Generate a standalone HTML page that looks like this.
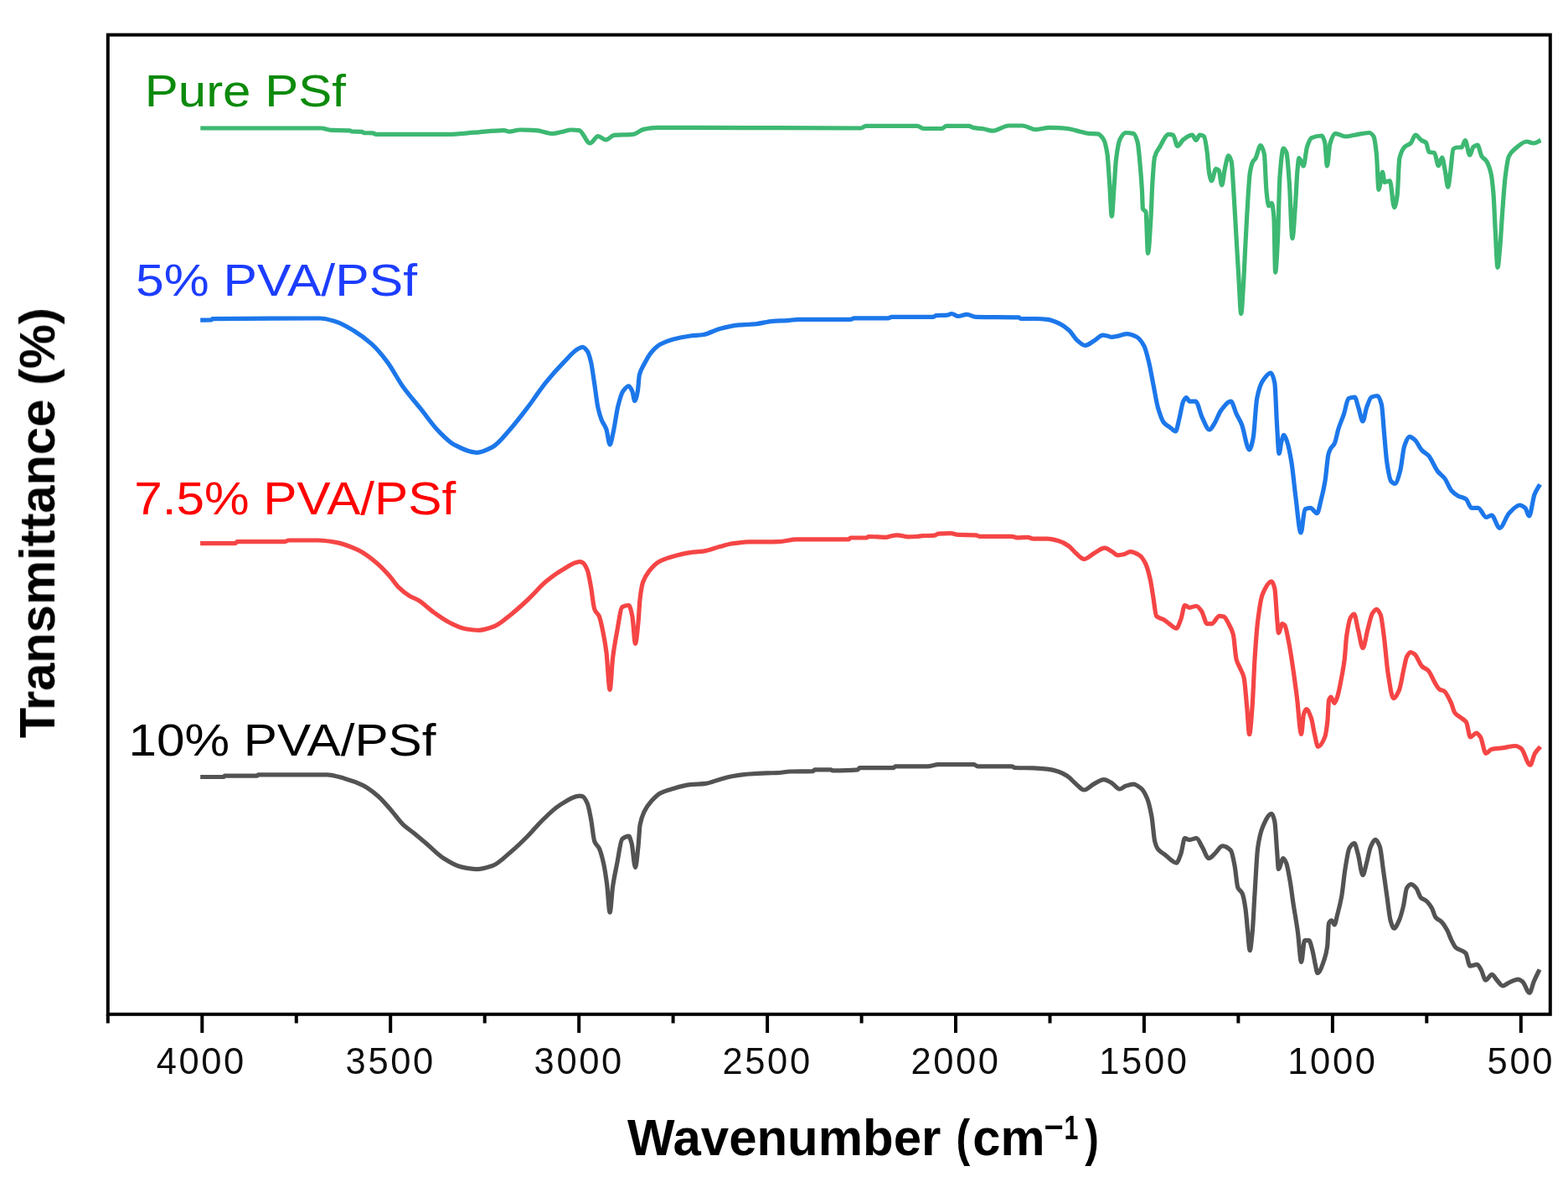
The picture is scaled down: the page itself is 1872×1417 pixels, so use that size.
<!DOCTYPE html>
<html><head><meta charset="utf-8"><title>FTIR spectra</title>
<style>
html,body{margin:0;padding:0;background:#fff;}
body{width:1872px;height:1417px;overflow:hidden;}
svg{display:block;}
text{font-family:"Liberation Sans",Arial,Helvetica,sans-serif;}
</style></head><body>
<svg width="1872" height="1417" viewBox="0 0 1872 1417">
<defs><filter id="soft" x="-1%" y="-1%" width="102%" height="102%"><feGaussianBlur stdDeviation="0.45"/></filter></defs>
<rect width="1872" height="1417" fill="#fff"/>
<g filter="url(#soft)">
<g fill="none" stroke-width="5.2" stroke-linejoin="round" stroke-linecap="butt">
<path d="M239.3 153.0C287.53 153.00 335.77 153.00 384.0 153.0C386.00 153.00 388.00 153.90 390.0 154.3C392.00 154.70 394.00 155.32 396.0 155.4C403.17 155.69 410.33 155.46 417.5 155.8C418.33 155.84 419.17 156.95 420.0 157.0C424.00 157.24 428.00 157.06 432.0 157.3C432.83 157.35 433.67 158.54 434.5 158.6C438.00 158.83 441.50 158.69 445.0 158.9C446.33 158.98 447.67 160.40 449.0 160.4C477.50 160.40 506.00 160.40 534.5 160.4C545.17 160.40 555.83 158.96 566.5 158.2C578.27 157.36 590.03 155.60 601.8 155.6C603.87 155.60 605.93 157.20 608.0 157.2C612.33 157.20 616.67 155.00 621.0 155.0C627.33 155.00 633.67 155.26 640.0 155.6C646.50 155.95 653.00 159.50 659.5 159.5C663.67 159.50 667.83 158.04 672.0 157.2C675.33 156.53 678.67 155.00 682.0 155.0C685.17 155.00 688.33 155.24 691.5 155.6C695.80 156.09 700.10 171.00 704.4 171.0C707.60 171.00 710.80 162.70 714.0 162.7C717.20 162.70 720.40 166.90 723.6 166.9C726.73 166.90 729.87 161.69 733.0 161.4C740.53 160.70 748.07 161.06 755.6 160.4C759.90 160.02 764.20 155.27 768.5 154.4C773.83 153.33 779.17 152.40 784.5 152.4C799.33 152.40 814.17 152.40 829.0 152.4C895.33 152.40 961.67 153.00 1028.0 153.0C1029.90 153.00 1031.80 150.30 1033.7 150.3C1054.13 150.30 1074.57 150.30 1095.0 150.3C1097.67 150.30 1100.33 153.50 1103.0 153.5C1110.17 153.50 1117.33 153.50 1124.5 153.5C1126.33 153.50 1128.17 150.30 1130.0 150.3C1138.83 150.30 1147.67 150.30 1156.5 150.3C1158.33 150.30 1160.17 152.03 1162.0 152.4C1166.33 153.27 1170.67 153.30 1175.0 154.0C1178.20 154.52 1181.40 156.20 1184.6 156.2C1191.27 156.20 1197.93 150.00 1204.6 150.0C1209.93 150.00 1215.27 150.00 1220.6 150.0C1225.97 150.00 1231.33 154.60 1236.7 154.6C1242.03 154.60 1247.37 152.40 1252.7 152.4C1259.80 152.40 1266.90 152.88 1274.0 153.5C1279.33 153.96 1284.67 156.00 1290.0 157.2C1293.33 157.95 1296.67 159.18 1300.0 159.4C1303.53 159.63 1307.07 159.53 1310.6 159.8C1312.93 159.98 1315.27 162.72 1317.6 166.5C1319.07 168.87 1320.53 174.65 1322.0 184.0C1322.90 189.74 1323.80 206.83 1324.7 219.4C1325.57 231.50 1326.43 258.20 1327.3 258.2C1328.20 258.20 1329.10 236.37 1330.0 224.7C1330.87 213.46 1331.73 196.18 1332.6 189.4C1334.07 177.93 1335.53 169.39 1337.0 166.5C1339.33 161.90 1341.67 158.50 1344.0 158.5C1347.00 158.50 1350.00 158.78 1353.0 159.4C1354.73 159.76 1356.47 163.83 1358.2 170.0C1359.07 173.09 1359.93 183.88 1360.8 193.0C1361.70 202.47 1362.60 212.37 1363.5 228.2C1363.80 233.48 1364.10 248.60 1364.4 249.3C1365.60 252.12 1366.80 250.48 1368.0 252.9C1368.83 254.58 1369.67 302.30 1370.5 302.3C1371.67 302.30 1372.83 278.97 1374.0 260.0C1374.60 250.24 1375.20 228.88 1375.8 219.4C1376.70 205.17 1377.60 190.97 1378.5 187.6C1380.57 179.86 1382.63 178.78 1384.7 175.3C1388.20 169.40 1391.70 160.30 1395.2 160.3C1396.97 160.30 1398.73 160.64 1400.5 161.2C1402.27 161.76 1404.03 174.40 1405.8 174.4C1408.17 174.40 1410.53 168.17 1412.9 166.5C1416.43 164.00 1419.97 161.20 1423.5 161.2C1424.97 161.20 1426.43 167.30 1427.9 167.3C1429.37 167.30 1430.83 161.20 1432.3 161.2C1434.07 161.20 1435.83 161.76 1437.6 162.9C1438.73 163.63 1439.87 172.81 1441.0 180.6C1441.90 186.79 1442.80 202.60 1443.7 207.0C1444.60 211.40 1445.50 215.80 1446.4 215.8C1448.17 215.80 1449.93 201.70 1451.7 201.7C1452.87 201.70 1454.03 202.41 1455.2 203.5C1456.37 204.59 1457.53 221.10 1458.7 221.1C1459.90 221.10 1461.10 206.91 1462.3 201.7C1463.77 195.34 1465.23 185.90 1466.7 185.9C1467.87 185.90 1469.03 188.68 1470.2 192.9C1471.07 196.04 1471.93 215.14 1472.8 228.2C1474.00 246.28 1475.20 269.56 1476.4 290.0C1477.27 304.77 1478.13 320.19 1479.0 334.0C1479.90 348.34 1480.80 374.60 1481.7 374.6C1482.57 374.60 1483.43 355.82 1484.3 342.8C1485.20 329.28 1486.10 306.74 1487.0 290.0C1488.17 268.30 1489.33 244.92 1490.5 228.2C1491.07 220.08 1491.63 210.60 1492.2 207.0C1493.40 199.37 1494.60 195.02 1495.8 192.9C1496.80 191.13 1497.80 190.94 1498.8 189.4C1500.87 186.22 1502.93 173.50 1505.0 173.5C1506.47 173.50 1507.93 177.44 1509.4 184.0C1510.27 187.88 1511.13 220.01 1512.0 228.2C1512.90 236.71 1513.80 245.80 1514.7 245.8C1515.87 245.80 1517.03 242.30 1518.2 242.3C1519.10 242.30 1520.00 249.35 1520.9 260.0C1521.47 266.70 1522.03 325.20 1522.6 325.2C1523.50 325.20 1524.40 306.27 1525.3 290.0C1526.20 273.73 1527.10 222.10 1528.0 210.5C1529.43 192.02 1530.87 177.00 1532.3 177.0C1533.50 177.00 1534.70 179.19 1535.9 182.3C1537.07 185.33 1538.23 203.64 1539.4 219.4C1540.57 235.16 1541.73 284.60 1542.9 284.6C1544.07 284.60 1545.23 261.34 1546.4 245.8C1547.30 233.81 1548.20 210.92 1549.1 201.7C1549.67 195.89 1550.23 188.50 1550.8 188.5C1552.57 188.50 1554.33 198.20 1556.1 198.2C1557.57 198.20 1559.03 179.60 1560.5 175.3C1562.27 170.12 1564.03 165.48 1565.8 164.7C1569.93 162.88 1574.07 162.00 1578.2 162.0C1579.37 162.00 1580.53 165.50 1581.7 170.0C1582.60 173.47 1583.50 198.20 1584.4 198.2C1585.57 198.20 1586.73 175.62 1587.9 171.7C1589.93 164.87 1591.97 159.40 1594.0 159.4C1598.13 159.40 1602.27 163.00 1606.4 163.0C1609.93 163.00 1613.47 161.77 1617.0 161.2C1622.87 160.25 1628.73 158.50 1634.6 158.5C1636.40 158.50 1638.20 160.19 1640.0 163.0C1641.13 164.77 1642.27 173.64 1643.4 184.0C1644.27 191.92 1645.13 226.40 1646.0 226.4C1647.50 226.40 1649.00 205.30 1650.5 205.3C1651.37 205.30 1652.23 217.60 1653.1 217.6C1655.17 217.60 1657.23 215.80 1659.3 215.8C1661.07 215.80 1662.83 247.60 1664.6 247.6C1665.77 247.60 1666.93 241.24 1668.1 233.5C1669.00 227.53 1669.90 193.39 1670.8 189.4C1672.87 180.24 1674.93 177.28 1677.0 175.3C1679.40 173.00 1681.80 173.17 1684.2 171.0C1686.10 169.28 1688.00 161.20 1689.9 161.2C1692.27 161.20 1694.63 165.97 1697.0 167.5C1698.87 168.71 1700.73 168.64 1702.6 170.4C1703.77 171.50 1704.93 181.29 1706.1 181.6C1708.23 182.16 1710.37 181.87 1712.5 182.4C1714.13 182.81 1715.77 197.90 1717.4 197.9C1718.80 197.90 1720.20 188.00 1721.6 188.0C1722.80 188.00 1724.00 197.63 1725.2 203.5C1726.37 209.21 1727.53 223.30 1728.7 223.3C1729.63 223.30 1730.57 212.82 1731.5 206.4C1732.67 198.38 1733.83 179.21 1735.0 178.1C1736.43 176.74 1737.87 176.00 1739.3 176.0C1741.20 176.00 1743.10 176.00 1745.0 176.0C1746.40 176.00 1747.80 167.50 1749.2 167.5C1751.07 167.50 1752.93 185.20 1754.8 185.2C1756.20 185.20 1757.60 176.32 1759.0 175.3C1760.67 174.09 1762.33 173.20 1764.0 173.2C1765.67 173.20 1767.33 184.15 1769.0 186.6C1770.87 189.34 1772.73 189.45 1774.6 192.2C1776.47 194.95 1778.33 199.48 1780.2 207.8C1781.13 211.96 1782.07 220.56 1783.0 231.8C1783.73 240.63 1784.47 261.18 1785.2 274.1C1786.13 290.54 1787.07 319.30 1788.0 319.3C1788.93 319.30 1789.87 305.36 1790.8 295.3C1791.77 284.88 1792.73 265.83 1793.7 253.0C1794.87 237.51 1796.03 219.76 1797.2 210.6C1798.60 199.61 1800.00 189.53 1801.4 186.6C1804.23 180.68 1807.07 179.01 1809.9 176.7C1814.13 173.25 1818.37 169.00 1822.6 169.0C1825.40 169.00 1828.20 171.00 1831.0 171.0C1833.83 171.00 1836.67 168.67 1839.5 167.5" stroke="#3cb872"/>
<path d="M239.2 382.1C243.60 382.07 248.00 382.09 252.4 382.0C252.80 381.99 253.20 380.61 253.6 380.6C296.47 380.01 339.33 380.00 382.2 380.0C388.47 380.00 394.73 382.14 401.0 384.0C408.10 386.10 415.20 390.43 422.3 394.7C429.43 398.99 436.57 404.22 443.7 410.7C449.93 416.36 456.17 423.82 462.4 432.1C468.60 440.33 474.80 452.83 481.0 461.5C488.13 471.48 495.27 479.30 502.4 488.2C509.53 497.10 516.67 507.66 523.8 514.9C530.03 521.22 536.27 527.83 542.5 531.0C551.40 535.53 560.30 540.30 569.2 540.3C575.47 540.30 581.73 536.86 588.0 533.6C595.10 529.90 602.20 520.12 609.3 512.2C616.40 504.28 623.50 494.79 630.6 485.5C637.73 476.16 644.87 465.02 652.0 456.2C659.13 447.38 666.27 439.38 673.4 432.1C678.93 426.45 684.47 419.37 690.0 416.5C691.87 415.53 693.73 414.30 695.6 414.3C697.50 414.30 699.40 416.64 701.3 419.3C702.70 421.26 704.10 426.31 705.5 432.0C706.93 437.83 708.37 449.53 709.8 458.8C711.20 467.85 712.60 480.70 714.0 487.0C715.40 493.30 716.80 497.65 718.2 501.2C720.10 506.01 722.00 507.22 723.9 512.5C725.30 516.39 726.70 530.80 728.1 530.8C729.50 530.80 730.90 521.40 732.3 515.3C734.20 507.02 736.10 491.58 738.0 484.2C739.87 476.95 741.73 469.95 743.6 467.3C745.97 463.94 748.33 460.90 750.7 460.9C752.10 460.90 753.50 464.15 754.9 467.3C755.87 469.48 756.83 478.60 757.8 478.6C758.97 478.60 760.13 473.15 761.3 467.3C762.00 463.79 762.70 450.32 763.4 447.5C765.27 439.98 767.13 438.42 769.0 434.8C771.83 429.31 774.67 424.00 777.5 420.7C781.27 416.32 785.03 412.88 788.8 410.8C793.53 408.19 798.27 406.48 803.0 405.2C810.03 403.30 817.07 401.90 824.1 401.0C829.27 400.34 834.43 400.27 839.6 399.5C846.20 398.52 852.80 394.21 859.4 392.5C866.47 390.67 873.53 388.91 880.6 388.2C887.63 387.50 894.67 387.47 901.7 386.8C908.77 386.13 915.83 383.75 922.9 383.3C928.60 382.93 934.30 382.92 940.0 382.6C944.50 382.34 949.00 381.40 953.5 381.4C974.17 381.40 994.83 381.40 1015.5 381.4C1016.90 381.40 1018.30 379.90 1019.7 379.9C1033.23 379.90 1046.77 379.90 1060.3 379.9C1061.73 379.90 1063.17 378.40 1064.6 378.4C1081.00 378.40 1097.40 378.40 1113.8 378.4C1115.20 378.40 1116.60 376.82 1118.0 376.7C1122.30 376.35 1126.60 376.53 1130.9 376.2C1132.67 376.06 1134.43 374.50 1136.2 374.5C1138.70 374.50 1141.20 377.50 1143.7 377.5C1147.27 377.50 1150.83 375.40 1154.4 375.4C1157.93 375.40 1161.47 378.33 1165.0 378.4C1182.10 378.73 1199.20 378.42 1216.3 378.8C1217.03 378.82 1217.77 380.50 1218.5 380.5C1224.90 380.50 1231.30 380.50 1237.7 380.5C1241.97 380.50 1246.23 380.91 1250.5 381.4C1255.50 381.98 1260.50 384.31 1265.5 386.7C1269.07 388.41 1272.63 391.04 1276.2 394.2C1279.73 397.34 1283.27 404.11 1286.8 407.0C1289.67 409.34 1292.53 412.40 1295.4 412.4C1298.93 412.40 1302.47 408.99 1306.0 407.0C1309.60 404.97 1313.20 400.20 1316.8 400.2C1318.53 400.20 1320.27 400.66 1322.0 401.0C1323.77 401.34 1325.53 402.40 1327.3 402.4C1329.77 402.40 1332.23 401.58 1334.7 401.1C1338.37 400.39 1342.03 398.70 1345.7 398.7C1349.37 398.70 1353.03 400.21 1356.7 402.0C1359.77 403.50 1362.83 407.37 1365.9 413.0C1367.73 416.36 1369.57 424.05 1371.4 431.4C1373.23 438.75 1375.07 449.73 1376.9 458.9C1378.73 468.07 1380.57 480.16 1382.4 486.4C1384.83 494.68 1387.27 501.98 1389.7 504.8C1392.13 507.62 1394.57 508.53 1397.0 510.3C1399.17 511.88 1401.33 514.90 1403.5 514.9C1405.00 514.90 1406.50 505.05 1408.0 499.3C1409.57 493.29 1411.13 482.11 1412.7 479.1C1413.90 476.79 1415.10 474.50 1416.3 474.5C1417.53 474.50 1418.77 479.10 1420.0 479.1C1422.43 479.10 1424.87 479.10 1427.3 479.1C1430.07 479.10 1432.83 493.86 1435.6 499.3C1438.37 504.74 1441.13 513.00 1443.9 513.0C1446.03 513.00 1448.17 508.12 1450.3 504.8C1452.73 501.01 1455.17 493.28 1457.6 490.1C1461.57 484.92 1465.53 479.10 1469.5 479.1C1471.67 479.10 1473.83 489.20 1476.0 493.8C1478.13 498.33 1480.27 501.37 1482.4 506.6C1485.47 514.12 1488.53 536.90 1491.6 536.9C1493.10 536.90 1494.60 530.19 1496.1 523.1C1497.63 515.86 1499.17 482.97 1500.7 475.4C1502.87 464.71 1505.03 458.63 1507.2 455.2C1510.53 449.93 1513.87 445.10 1517.2 445.1C1518.73 445.10 1520.27 449.64 1521.8 457.1C1522.73 461.64 1523.67 493.76 1524.6 508.4C1525.40 520.94 1526.20 541.50 1527.0 541.5C1528.00 541.50 1529.00 530.22 1530.0 526.8C1530.93 523.61 1531.87 519.40 1532.8 519.4C1534.03 519.40 1535.27 523.43 1536.5 526.8C1538.33 531.80 1540.17 541.41 1542.0 552.5C1543.53 561.77 1545.07 579.32 1546.6 591.0C1548.77 607.51 1550.93 636.00 1553.1 636.0C1554.73 636.00 1556.37 608.72 1558.0 607.9C1560.13 606.83 1562.27 606.30 1564.4 606.3C1567.07 606.30 1569.73 612.70 1572.4 612.7C1574.00 612.70 1575.60 602.93 1577.2 596.7C1578.80 590.47 1580.40 583.73 1582.0 574.2C1583.33 566.26 1584.67 547.17 1586.0 542.2C1586.83 539.09 1587.67 537.31 1588.5 535.8C1590.10 532.90 1591.70 532.56 1593.3 529.4C1594.87 526.31 1596.43 516.68 1598.0 511.7C1600.17 504.81 1602.33 500.60 1604.5 494.1C1606.33 488.60 1608.17 476.49 1610.0 475.7C1612.43 474.66 1614.87 474.10 1617.3 474.1C1618.90 474.10 1620.50 482.96 1622.1 487.7C1623.73 492.54 1625.37 502.90 1627.0 502.9C1628.57 502.90 1630.13 490.33 1631.7 486.1C1633.57 481.06 1635.43 474.87 1637.3 474.1C1639.73 473.10 1642.17 472.50 1644.6 472.5C1646.20 472.50 1647.80 476.84 1649.4 482.9C1650.47 486.94 1651.53 506.62 1652.6 518.1C1653.67 529.58 1654.73 544.72 1655.8 551.8C1657.40 562.42 1659.00 572.33 1660.6 574.2C1662.20 576.07 1663.80 577.40 1665.4 577.4C1667.53 577.40 1669.67 569.08 1671.8 561.4C1673.40 555.64 1675.00 537.08 1676.6 532.6C1678.73 526.62 1680.87 521.30 1683.0 521.3C1685.13 521.30 1687.27 523.51 1689.4 525.4C1692.07 527.76 1694.73 534.62 1697.4 537.4C1700.07 540.18 1702.73 540.96 1705.4 543.8C1709.17 547.82 1712.93 558.33 1716.7 563.0C1719.37 566.31 1722.03 567.57 1724.7 571.0C1727.37 574.43 1730.03 582.41 1732.7 585.4C1735.37 588.39 1738.03 590.42 1740.7 591.9C1743.90 593.68 1747.10 593.69 1750.3 595.9C1752.43 597.37 1754.57 606.30 1756.7 606.3C1759.37 606.30 1762.03 606.30 1764.7 606.3C1767.93 606.30 1771.17 617.50 1774.4 617.5C1776.53 617.50 1778.67 615.10 1780.8 615.1C1784.00 615.10 1787.20 630.30 1790.4 630.3C1794.13 630.30 1797.87 616.55 1801.6 612.7C1805.87 608.30 1810.13 603.00 1814.4 603.0C1816.53 603.00 1818.67 604.50 1820.8 606.3C1822.40 607.65 1824.00 616.00 1825.6 616.0C1827.73 616.00 1829.87 595.73 1832.0 590.3C1834.17 584.78 1836.33 582.23 1838.5 578.2" stroke="#1c77ea"/>
<path d="M239.1 648.6C253.07 648.60 267.03 648.60 281.0 648.6C281.43 648.60 281.87 647.63 282.3 647.3C282.67 647.02 283.03 646.60 283.4 646.6C302.10 646.60 320.80 646.60 339.5 646.6C341.27 646.60 343.03 645.00 344.8 645.0C356.40 645.00 368.00 645.00 379.6 645.0C386.70 645.00 393.80 646.21 400.9 647.4C409.80 648.89 418.70 652.54 427.6 656.7C434.73 660.04 441.87 665.54 449.0 671.4C454.33 675.78 459.67 681.42 465.0 687.4C468.57 691.40 472.13 697.29 475.7 700.8C480.17 705.19 484.63 708.79 489.1 711.5C492.67 713.66 496.23 714.68 499.8 716.8C506.03 720.51 512.27 727.10 518.5 731.5C524.73 735.90 530.97 740.50 537.2 743.5C543.43 746.50 549.67 749.73 555.9 750.7C561.23 751.53 566.57 752.30 571.9 752.3C578.13 752.30 584.37 749.85 590.6 747.5C596.83 745.15 603.07 739.09 609.3 734.2C616.40 728.63 623.50 722.14 630.6 715.5C637.73 708.83 644.87 700.03 652.0 694.1C658.23 688.92 664.47 684.26 670.7 680.7C677.83 676.62 684.97 670.60 692.1 670.6C693.27 670.60 694.43 671.06 695.6 671.6C697.50 672.47 699.40 676.12 701.3 680.8C702.70 684.25 704.10 693.09 705.5 700.6C706.93 708.29 708.37 723.81 709.8 727.4C711.67 732.08 713.53 731.69 715.4 735.9C716.80 739.05 718.20 746.10 719.6 752.8C721.03 759.66 722.47 767.25 723.9 778.2C725.30 788.89 726.70 823.40 728.1 823.4C729.27 823.40 730.43 794.69 731.6 785.3C733.27 771.89 734.93 763.17 736.6 754.2C738.70 742.90 740.80 725.70 742.9 724.6C745.50 723.23 748.10 722.50 750.7 722.5C752.10 722.50 753.50 729.22 754.9 735.9C756.10 741.62 757.30 768.30 758.5 768.3C759.67 768.30 760.83 754.17 762.0 742.9C762.70 736.14 763.40 720.47 764.1 714.7C765.27 705.09 766.43 698.27 767.6 694.9C769.97 688.07 772.33 685.29 774.7 682.2C778.47 677.29 782.23 673.20 786.0 671.0C790.70 668.26 795.40 666.74 800.1 665.3C808.10 662.85 816.10 660.61 824.1 659.6C829.27 658.94 834.43 658.89 839.6 658.2C846.20 657.31 852.80 654.37 859.4 652.6C864.10 651.34 868.80 649.69 873.5 649.0C880.57 647.96 887.63 646.90 894.7 646.9C901.77 646.90 908.83 646.90 915.9 646.9C920.60 646.90 925.30 646.81 930.0 646.7C937.13 646.53 944.27 643.90 951.4 643.9C972.03 643.90 992.67 643.90 1013.3 643.9C1014.03 643.90 1014.77 642.00 1015.5 642.0C1021.90 642.00 1028.30 642.00 1034.7 642.0C1035.40 642.00 1036.10 640.50 1036.8 640.5C1043.93 640.50 1051.07 641.40 1058.2 641.4C1059.63 641.40 1061.07 640.61 1062.5 640.3C1065.33 639.70 1068.17 638.80 1071.0 638.8C1075.27 638.80 1079.53 640.90 1083.8 640.9C1087.37 640.90 1090.93 640.71 1094.5 640.5C1096.67 640.37 1098.83 639.82 1101.0 639.7C1105.97 639.42 1110.93 639.57 1115.9 639.2C1117.33 639.09 1118.77 637.19 1120.2 637.1C1125.17 636.80 1130.13 636.70 1135.1 636.7C1137.97 636.70 1140.83 638.29 1143.7 638.4C1150.80 638.68 1157.90 638.48 1165.0 638.8C1166.43 638.86 1167.87 640.30 1169.3 640.3C1182.13 640.30 1194.97 640.30 1207.8 640.3C1209.93 640.30 1212.07 641.80 1214.2 641.8C1218.47 641.80 1222.73 641.40 1227.0 641.4C1229.13 641.40 1231.27 643.10 1233.4 643.1C1239.10 643.10 1244.80 643.10 1250.5 643.1C1254.77 643.10 1259.03 644.40 1263.3 645.6C1267.60 646.80 1271.90 649.07 1276.2 652.0C1279.03 653.93 1281.87 658.23 1284.7 660.6C1287.90 663.28 1291.10 667.40 1294.3 667.4C1298.20 667.40 1302.10 662.69 1306.0 660.6C1310.30 658.30 1314.60 654.20 1318.9 654.2C1321.70 654.20 1324.50 656.76 1327.3 658.3C1329.77 659.65 1332.23 662.90 1334.7 662.9C1337.13 662.90 1339.57 662.27 1342.0 661.7C1344.47 661.12 1346.93 658.70 1349.4 658.7C1353.07 658.70 1356.73 660.62 1360.4 662.9C1362.83 664.41 1365.27 668.14 1367.7 673.0C1369.53 676.66 1371.37 683.40 1373.2 691.4C1374.43 696.78 1375.67 706.07 1376.9 713.4C1378.13 720.73 1379.37 734.10 1380.6 735.4C1383.63 738.61 1386.67 738.15 1389.7 740.0C1392.13 741.48 1394.57 743.84 1397.0 745.5C1399.47 747.18 1401.93 750.10 1404.4 750.1C1406.23 750.10 1408.07 743.85 1409.9 739.1C1411.43 735.13 1412.97 722.60 1414.5 722.6C1416.33 722.60 1418.17 725.30 1420.0 725.3C1422.77 725.30 1425.53 723.50 1428.3 723.5C1430.43 723.50 1432.57 726.93 1434.7 729.9C1436.83 732.87 1438.97 744.60 1441.1 744.6C1442.93 744.60 1444.77 744.60 1446.6 744.6C1449.67 744.60 1452.73 735.40 1455.8 735.4C1457.63 735.40 1459.47 735.76 1461.3 736.3C1463.13 736.84 1464.97 741.24 1466.8 744.6C1468.63 747.96 1470.47 750.56 1472.3 757.4C1473.53 762.00 1474.77 782.18 1476.0 786.8C1477.53 792.55 1479.07 794.09 1480.6 797.8C1482.10 801.43 1483.60 802.80 1485.1 808.8C1486.33 813.73 1487.57 832.52 1488.8 845.5C1489.73 855.32 1490.67 876.70 1491.6 876.7C1492.80 876.70 1494.00 857.60 1495.2 841.8C1496.13 829.51 1497.07 801.14 1498.0 786.8C1499.23 767.85 1500.47 750.74 1501.7 740.9C1503.53 726.27 1505.37 714.16 1507.2 709.7C1510.87 700.79 1514.53 694.10 1518.2 694.1C1519.40 694.10 1520.60 697.59 1521.8 702.4C1522.73 706.14 1523.67 726.80 1524.6 737.2C1525.20 743.88 1525.80 755.60 1526.4 755.6C1527.93 755.60 1529.47 744.60 1531.0 744.6C1531.93 744.60 1532.87 745.42 1533.8 746.4C1535.30 747.98 1536.80 757.52 1538.3 764.8C1539.83 772.24 1541.37 782.22 1542.9 792.3C1544.73 804.35 1546.57 818.30 1548.4 832.7C1550.13 846.31 1551.87 876.50 1553.6 876.5C1554.57 876.50 1555.53 855.13 1556.5 852.3C1557.57 849.18 1558.63 846.70 1559.7 846.7C1561.60 846.70 1563.50 852.03 1565.4 857.2C1566.77 860.92 1568.13 871.06 1569.5 876.7C1570.83 882.20 1572.17 891.30 1573.5 891.3C1576.23 891.30 1578.97 886.71 1581.7 879.9C1582.77 877.24 1583.83 870.22 1584.9 860.5C1585.43 855.64 1585.97 837.78 1586.5 836.1C1587.33 833.48 1588.17 832.00 1589.0 832.0C1590.33 832.00 1591.67 839.40 1593.0 839.4C1594.10 839.40 1595.20 835.82 1596.3 832.9C1598.20 827.85 1600.10 816.95 1602.0 806.9C1603.07 801.26 1604.13 796.02 1605.2 787.4C1606.00 780.93 1606.80 765.35 1607.6 759.8C1609.23 748.46 1610.87 739.74 1612.5 737.1C1613.87 734.89 1615.23 733.00 1616.6 733.0C1618.20 733.00 1619.80 745.51 1621.4 751.7C1623.30 759.05 1625.20 773.60 1627.1 773.6C1629.00 773.60 1630.90 758.58 1632.8 751.7C1634.70 744.82 1636.60 735.14 1638.5 732.2C1640.10 729.72 1641.70 727.30 1643.3 727.3C1644.93 727.30 1646.57 730.15 1648.2 733.8C1649.57 736.86 1650.93 749.62 1652.3 759.8C1653.90 771.72 1655.50 793.61 1657.1 803.6C1659.27 817.13 1661.43 833.70 1663.6 833.7C1665.77 833.70 1667.93 829.29 1670.1 824.7C1672.27 820.11 1674.43 804.56 1676.6 795.5C1677.57 791.46 1678.53 785.88 1679.5 784.0C1681.00 781.09 1682.50 778.50 1684.0 778.5C1685.67 778.50 1687.33 779.78 1689.0 781.0C1691.90 783.13 1694.80 792.76 1697.7 795.5C1700.13 797.80 1702.57 798.06 1705.0 800.4C1708.00 803.29 1711.00 812.03 1714.0 816.6C1715.60 819.04 1717.20 822.26 1718.8 823.1C1720.43 823.96 1722.07 823.86 1723.7 824.7C1726.67 826.22 1729.63 833.08 1732.6 839.4C1733.97 842.31 1735.33 848.89 1736.7 850.7C1739.40 854.27 1742.10 854.95 1744.8 857.2C1746.70 858.78 1748.60 859.42 1750.5 862.1C1752.13 864.41 1753.77 879.90 1755.4 879.9C1757.83 879.90 1760.27 875.10 1762.7 875.1C1764.30 875.10 1765.90 877.56 1767.5 879.9C1769.67 883.07 1771.83 899.40 1774.0 899.4C1776.17 899.40 1778.33 895.00 1780.5 894.5C1784.83 893.50 1789.17 893.48 1793.5 892.9C1798.90 892.18 1804.30 890.50 1809.7 890.5C1811.87 890.50 1814.03 892.09 1816.2 893.7C1819.73 896.32 1823.27 913.20 1826.8 913.2C1828.70 913.20 1830.60 902.55 1832.5 899.4C1834.67 895.81 1836.83 894.00 1839.0 891.3" stroke="#f54545"/>
<path d="M239.2 927.5C248.47 927.50 257.73 927.50 267.0 927.5C267.40 927.50 267.80 926.20 268.2 926.2C281.13 926.20 294.07 926.20 307.0 926.2C307.40 926.20 307.80 924.80 308.2 924.8C335.57 924.80 362.93 924.80 390.3 924.8C397.40 924.80 404.50 927.46 411.6 929.4C418.73 931.35 425.87 933.88 433.0 937.4C439.23 940.48 445.47 945.31 451.7 950.7C457.03 955.31 462.37 962.00 467.7 968.1C472.13 973.17 476.57 979.84 481.0 984.1C485.47 988.39 489.93 991.15 494.4 994.8C499.73 999.16 505.07 1003.69 510.4 1008.2C516.63 1013.47 522.87 1020.24 529.1 1024.2C536.23 1028.73 543.37 1033.32 550.5 1034.9C556.73 1036.28 562.97 1037.60 569.2 1037.6C575.47 1037.60 581.73 1035.59 588.0 1033.5C595.10 1031.13 602.20 1023.43 609.3 1017.5C616.40 1011.57 623.50 1004.66 630.6 997.5C635.97 992.09 641.33 985.32 646.7 980.1C653.80 973.19 660.90 965.74 668.0 961.4C676.03 956.49 684.07 950.20 692.1 950.2C693.27 950.20 694.43 950.46 695.6 950.8C697.50 951.35 699.40 954.97 701.3 959.3C702.70 962.49 704.10 970.41 705.5 977.6C706.93 984.96 708.37 1000.94 709.8 1004.5C711.67 1009.14 713.53 1008.99 715.4 1012.9C717.07 1016.39 718.73 1022.59 720.4 1029.9C721.80 1036.04 723.20 1044.80 724.6 1055.3C725.77 1064.05 726.93 1089.20 728.1 1089.2C729.27 1089.20 730.43 1066.02 731.6 1058.1C733.27 1046.79 734.93 1039.68 736.6 1031.3C738.70 1020.74 740.80 1003.37 742.9 1001.6C745.50 999.41 748.10 998.10 750.7 998.1C751.87 998.10 753.03 1002.98 754.2 1007.3C755.63 1012.60 757.07 1035.50 758.5 1035.5C759.67 1035.50 760.83 1020.91 762.0 1010.1C762.70 1003.61 763.40 988.51 764.1 984.7C765.73 975.82 767.37 972.62 769.0 969.2C771.83 963.26 774.67 959.67 777.5 956.5C781.27 952.29 785.03 948.52 788.8 946.6C793.53 944.18 798.27 942.94 803.0 941.6C810.03 939.60 817.07 937.50 824.1 936.7C830.23 936.01 836.37 936.05 842.5 935.3C848.13 934.62 853.77 931.93 859.4 930.4C864.10 929.13 868.80 927.64 873.5 926.8C880.57 925.54 887.63 924.53 894.7 924.0C901.77 923.47 908.83 923.15 915.9 922.9C920.60 922.73 925.30 922.72 930.0 922.5C934.27 922.30 938.53 921.12 942.8 921.0C952.07 920.74 961.33 920.96 970.6 920.6C971.30 920.57 972.00 918.80 972.7 918.8C979.13 918.80 985.57 918.80 992.0 918.8C992.70 918.80 993.40 919.90 994.1 919.9C1004.07 919.90 1014.03 919.76 1024.0 918.8C1024.73 918.73 1025.47 916.70 1026.2 916.7C1039.73 916.70 1053.27 916.70 1066.8 916.7C1067.50 916.70 1068.20 914.80 1068.9 914.8C1081.73 914.80 1094.57 914.80 1107.4 914.8C1111.67 914.80 1115.93 912.60 1120.2 912.6C1134.43 912.60 1148.67 912.60 1162.9 912.6C1164.33 912.60 1165.77 914.80 1167.2 914.8C1180.73 914.80 1194.27 914.80 1207.8 914.8C1209.20 914.80 1210.60 916.44 1212.0 916.5C1219.13 916.82 1226.27 916.68 1233.4 916.9C1239.10 917.07 1244.80 917.54 1250.5 918.2C1254.77 918.69 1259.03 919.69 1263.3 921.0C1266.87 922.10 1270.43 924.02 1274.0 926.3C1277.57 928.58 1281.13 933.01 1284.7 935.9C1287.90 938.49 1291.10 943.00 1294.3 943.0C1298.20 943.00 1302.10 937.91 1306.0 935.9C1309.93 933.87 1313.87 930.60 1317.8 930.6C1320.97 930.60 1324.13 932.93 1327.3 934.7C1330.37 936.42 1333.43 942.00 1336.5 942.0C1338.97 942.00 1341.43 939.11 1343.9 938.3C1346.93 937.30 1349.97 936.10 1353.0 936.1C1356.07 936.10 1359.13 938.55 1362.2 941.1C1364.63 943.12 1367.07 947.25 1369.5 953.0C1371.33 957.33 1373.17 965.03 1375.0 975.0C1376.23 981.71 1377.47 999.73 1378.7 1004.4C1379.93 1009.07 1381.17 1012.00 1382.4 1013.6C1385.47 1017.58 1388.53 1018.34 1391.6 1020.9C1394.03 1022.93 1396.47 1025.75 1398.9 1027.3C1400.73 1028.47 1402.57 1030.10 1404.4 1030.1C1406.23 1030.10 1408.07 1024.04 1409.9 1019.1C1411.43 1014.97 1412.97 1000.70 1414.5 1000.7C1416.33 1000.70 1418.17 1002.60 1420.0 1002.6C1422.77 1002.60 1425.53 1000.70 1428.3 1000.7C1430.73 1000.70 1433.17 1007.77 1435.6 1011.7C1438.07 1015.69 1440.53 1024.60 1443.0 1024.6C1445.43 1024.60 1447.87 1021.19 1450.3 1019.1C1453.33 1016.49 1456.37 1009.90 1459.4 1009.9C1462.77 1009.90 1466.13 1011.83 1469.5 1015.4C1471.03 1017.02 1472.57 1025.95 1474.1 1033.8C1475.33 1040.11 1476.57 1056.49 1477.8 1059.4C1479.63 1063.72 1481.47 1062.77 1483.3 1066.8C1484.53 1069.51 1485.77 1076.73 1487.0 1085.1C1487.90 1091.21 1488.80 1104.01 1489.7 1112.7C1490.50 1120.42 1491.30 1134.70 1492.1 1134.7C1493.13 1134.70 1494.17 1123.00 1495.2 1112.7C1496.13 1103.39 1497.07 1081.40 1498.0 1066.8C1499.23 1047.51 1500.47 1020.28 1501.7 1011.7C1503.53 998.95 1505.37 992.22 1507.2 987.9C1510.87 979.27 1514.53 971.40 1518.2 971.4C1519.40 971.40 1520.60 975.37 1521.8 980.6C1522.73 984.67 1523.67 1003.90 1524.6 1015.4C1525.20 1022.79 1525.80 1037.40 1526.4 1037.4C1528.27 1037.40 1530.13 1024.60 1532.0 1024.6C1533.20 1024.60 1534.40 1027.38 1535.6 1030.1C1537.13 1033.58 1538.67 1043.36 1540.2 1052.1C1541.43 1059.13 1542.67 1069.60 1543.9 1077.8C1545.73 1089.99 1547.57 1099.27 1549.4 1112.7C1550.80 1122.95 1552.20 1148.50 1553.6 1148.5C1554.93 1148.50 1556.27 1122.60 1557.6 1122.6C1559.30 1122.60 1561.00 1122.60 1562.7 1122.6C1564.10 1122.60 1565.50 1129.40 1566.9 1134.5C1568.03 1138.63 1569.17 1146.46 1570.3 1151.4C1571.17 1155.18 1572.03 1161.60 1572.9 1161.6C1575.70 1161.60 1578.50 1152.93 1581.3 1144.7C1582.43 1141.37 1583.57 1137.88 1584.7 1129.4C1585.27 1125.16 1585.83 1103.48 1586.4 1102.3C1587.53 1099.94 1588.67 1098.90 1589.8 1098.9C1590.93 1098.90 1592.07 1104.00 1593.2 1104.0C1594.33 1104.00 1595.47 1096.45 1596.6 1092.1C1598.30 1085.58 1600.00 1079.57 1601.7 1070.1C1603.10 1062.30 1604.50 1046.41 1605.9 1037.9C1607.60 1027.56 1609.30 1015.38 1611.0 1012.5C1612.97 1009.17 1614.93 1006.60 1616.9 1006.6C1618.33 1006.60 1619.77 1014.33 1621.2 1019.3C1623.17 1026.12 1625.13 1044.70 1627.1 1044.7C1628.50 1044.70 1629.90 1036.08 1631.3 1031.1C1633.00 1025.05 1634.70 1014.41 1636.4 1010.8C1638.37 1006.63 1640.33 1002.40 1642.3 1002.4C1644.00 1002.40 1645.70 1006.19 1647.4 1010.8C1648.80 1014.59 1650.20 1029.84 1651.6 1039.6C1653.03 1049.59 1654.47 1060.11 1655.9 1070.1C1657.30 1079.86 1658.70 1094.21 1660.1 1098.9C1661.50 1103.59 1662.90 1108.20 1664.3 1108.2C1666.30 1108.20 1668.30 1103.17 1670.3 1098.9C1672.00 1095.27 1673.70 1088.95 1675.4 1082.0C1676.80 1076.28 1678.20 1062.08 1679.6 1060.0C1681.30 1057.47 1683.00 1055.70 1684.7 1055.7C1686.67 1055.70 1688.63 1057.90 1690.6 1060.0C1692.57 1062.10 1694.53 1070.06 1696.5 1071.8C1698.50 1073.57 1700.50 1073.64 1702.5 1075.2C1704.73 1076.94 1706.97 1079.99 1709.2 1083.7C1710.90 1086.52 1712.60 1093.53 1714.3 1095.5C1716.57 1098.13 1718.83 1098.33 1721.1 1100.6C1723.37 1102.87 1725.63 1106.63 1727.9 1110.8C1729.60 1113.93 1731.30 1119.27 1733.0 1122.6C1734.67 1125.86 1736.33 1129.57 1738.0 1131.1C1741.97 1134.74 1745.93 1133.72 1749.9 1137.9C1751.60 1139.69 1753.30 1153.10 1755.0 1153.1C1757.83 1153.10 1760.67 1151.40 1763.5 1151.4C1765.17 1151.40 1766.83 1155.34 1768.5 1158.2C1770.20 1161.12 1771.90 1170.10 1773.6 1170.1C1776.13 1170.10 1778.67 1163.30 1781.2 1163.3C1783.20 1163.30 1785.20 1167.97 1787.2 1170.1C1789.43 1172.48 1791.67 1176.80 1793.9 1176.8C1796.73 1176.80 1799.57 1173.73 1802.4 1172.6C1805.80 1171.24 1809.20 1169.20 1812.6 1169.2C1814.30 1169.20 1816.00 1170.54 1817.7 1171.8C1820.50 1173.88 1823.30 1185.30 1826.1 1185.3C1827.80 1185.30 1829.50 1175.82 1831.2 1171.8C1833.47 1166.44 1835.73 1162.20 1838.0 1157.4" stroke="#535353"/>
</g>
<rect x="128.8" y="41.6" width="1722.0" height="1169.2" fill="none" stroke="#000" stroke-width="4.0"/>
<g stroke="#000" stroke-width="4"><line x1="1815.8" y1="1210.8" x2="1815.8" y2="1233"/><line x1="1590.9" y1="1210.8" x2="1590.9" y2="1233"/><line x1="1365.9" y1="1210.8" x2="1365.9" y2="1233"/><line x1="1141.0" y1="1210.8" x2="1141.0" y2="1233"/><line x1="916.1" y1="1210.8" x2="916.1" y2="1233"/><line x1="691.2" y1="1210.8" x2="691.2" y2="1233"/><line x1="466.2" y1="1210.8" x2="466.2" y2="1233"/><line x1="241.3" y1="1210.8" x2="241.3" y2="1233"/><line x1="1703.3" y1="1210.8" x2="1703.3" y2="1221.5"/><line x1="1478.4" y1="1210.8" x2="1478.4" y2="1221.5"/><line x1="1253.5" y1="1210.8" x2="1253.5" y2="1221.5"/><line x1="1028.6" y1="1210.8" x2="1028.6" y2="1221.5"/><line x1="803.6" y1="1210.8" x2="803.6" y2="1221.5"/><line x1="578.7" y1="1210.8" x2="578.7" y2="1221.5"/><line x1="353.8" y1="1210.8" x2="353.8" y2="1221.5"/><line x1="128.8" y1="1210.8" x2="128.8" y2="1221.5"/></g>
<g font-size="43.5" fill="#111" letter-spacing="2.6"><text x="1815.8" y="1281.6" text-anchor="middle">500</text><text x="1590.9" y="1281.6" text-anchor="middle">1000</text><text x="1365.9" y="1281.6" text-anchor="middle">1500</text><text x="1141.0" y="1281.6" text-anchor="middle">2000</text><text x="916.1" y="1281.6" text-anchor="middle">2500</text><text x="691.2" y="1281.6" text-anchor="middle">3000</text><text x="466.2" y="1281.6" text-anchor="middle">3500</text><text x="240.3" y="1281.6" text-anchor="middle">4000</text></g>
<text x="172.8" y="127.3" font-size="54" fill="#078a07" textLength="240" lengthAdjust="spacingAndGlyphs">Pure PSf</text>
<text x="162" y="352.6" font-size="53" fill="#1e3cff" textLength="336" lengthAdjust="spacingAndGlyphs">5% PVA/PSf</text>
<text x="160.2" y="614.1" font-size="55" fill="#ff0000" textLength="384" lengthAdjust="spacingAndGlyphs">7.5% PVA/PSf</text>
<text x="153.5" y="901.9" font-size="54" fill="#000" textLength="367" lengthAdjust="spacingAndGlyphs">10% PVA/PSf</text>
<g font-weight="bold" fill="#000">
<text transform="translate(749.1 1378.8) scale(0.983 1)" font-size="61">Wavenumber</text>
<text transform="translate(1141.6 1378.8) scale(0.82 1)" font-size="61">(</text>
<text transform="translate(1161.3 1378.8) scale(0.977 1)" font-size="61">cm</text>
<text x="1246.2" y="1358.6" font-size="40">&#8722;</text>
<text transform="translate(1270.6 1360) scale(0.74 1)" font-size="41">1</text>
<text transform="translate(1295.2 1378.8) scale(0.82 1)" font-size="61">)</text>
</g>
<text transform="translate(65 881.3) rotate(-90)" x="0" y="0" font-size="59.8" font-weight="bold" fill="#000" textLength="514" lengthAdjust="spacingAndGlyphs">Transmittance (%)</text>
</g>
</svg>
</body></html>
